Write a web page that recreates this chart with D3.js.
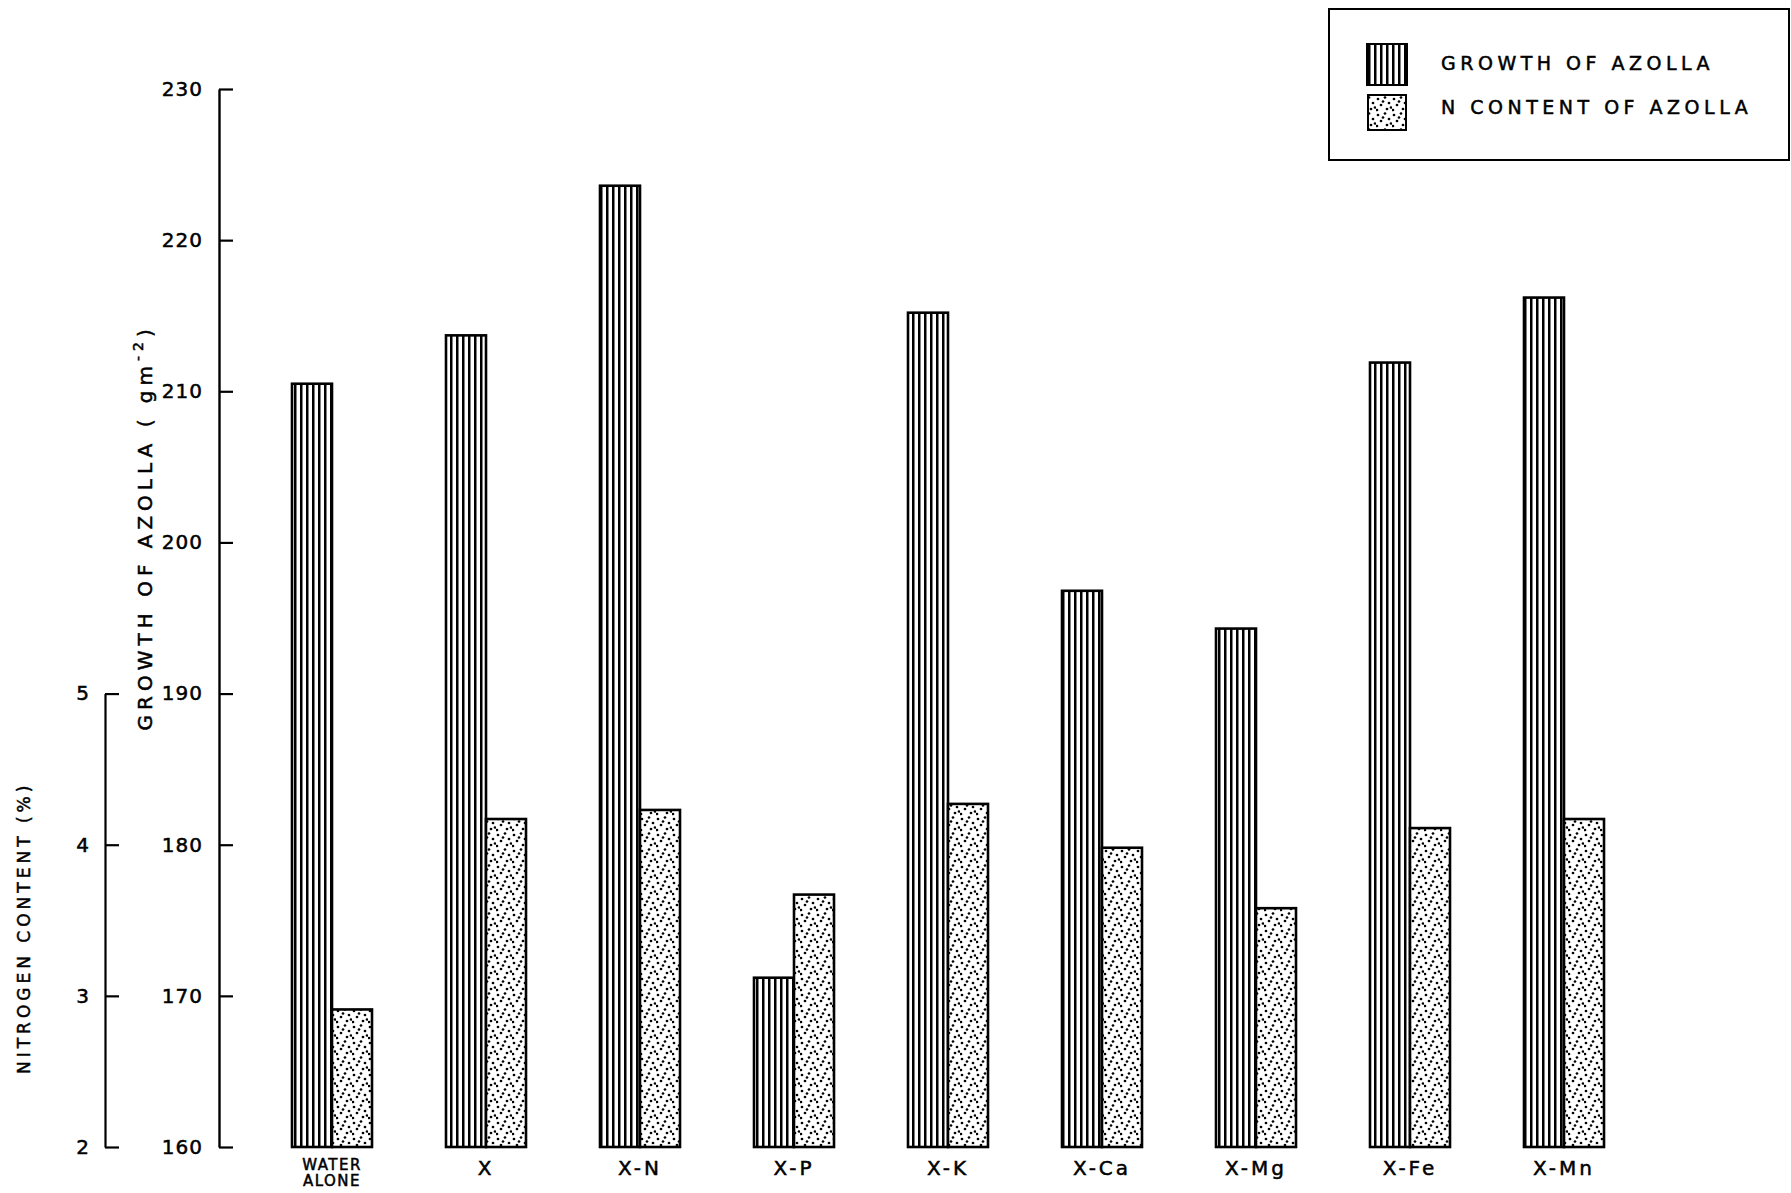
<!DOCTYPE html>
<html lang="en">
<head>
<meta charset="utf-8">
<title>Azolla growth and N content</title>
<script src="https://d3js.org/d3.v7.min.js"></script>
<style>
  body { margin: 0; background: #fff; }
  svg text { font-family: "DejaVu Sans", sans-serif; fill: #000; stroke: #000; stroke-width: 0.5; }
</style>
</head>
<body>
<svg id="chart" width="1791" height="1193"></svg>
<script>
// data
var treatments = ["WATER ALONE", "X", "X-N", "X-P", "X-K", "X-Ca", "X-Mg", "X-Fe", "X-Mn"];
var growth = [210.5, 213.7, 223.6, 171.2, 215.2, 196.8, 194.3, 211.9, 216.2];
var nContent = [2.91, 4.17, 4.23, 3.67, 4.27, 3.98, 3.58, 4.11, 4.17];
var growthTicks = [160, 170, 180, 190, 200, 210, 220, 230];
var nTicks = [2, 3, 4, 5];

var svg = d3.select("#chart");
var baseY = 1147;
var barW = 40;

// scales
var x = d3.scalePoint().domain(treatments).range([332, 1564]);
var yG = d3.scaleLinear().domain([160, 230]).range([baseY, 89]);
var yN = d3.scaleLinear().domain([2, 5]).range([baseY, yG(190)]);

// fill patterns
var defs = svg.append("defs");
var stripe = defs.append("pattern").attr("id", "stripes")
  .attr("patternUnits", "userSpaceOnUse").attr("width", 6).attr("height", 10);
stripe.append("rect").attr("width", 6).attr("height", 10).attr("fill", "#fff");
stripe.append("rect").attr("x", 0).attr("width", 2.5).attr("height", 10).attr("fill", "#000");

var dots = defs.append("pattern").attr("id", "dots")
  .attr("patternUnits", "userSpaceOnUse").attr("width", 16).attr("height", 16);
dots.append("rect").attr("width", 16).attr("height", 16).attr("fill", "#fff");
[[2, 3], [9, 1.5], [13, 7], [5, 9], [11, 13], [1, 14], [7, 5.5], [15, 11.5]].forEach(function(p) {
  dots.append("circle").attr("cx", p[0]).attr("cy", p[1]).attr("r", 1.35).attr("fill", "#000");
});

// growth axis
var gAxis = svg.append("g").attr("transform", "translate(219,0)")
  .call(d3.axisLeft(yG).tickValues(growthTicks).tickSize(-14).tickSizeOuter(0).tickPadding(16).tickFormat(d3.format("d")));
gAxis.select(".domain").attr("stroke-width", 2.4);
gAxis.selectAll(".tick line").attr("stroke-width", 2.2);
gAxis.selectAll(".tick text").attr("font-size", 20).attr("letter-spacing", 1).style("font-family", "DejaVu Sans, sans-serif");

// nitrogen axis
var nAxis = svg.append("g").attr("transform", "translate(105,0)")
  .call(d3.axisLeft(yN).tickValues(nTicks).tickSize(-14).tickSizeOuter(0).tickPadding(16).tickFormat(d3.format("d")));
nAxis.select(".domain").attr("stroke-width", 2.2);
nAxis.selectAll(".tick line").attr("stroke-width", 2.2);
nAxis.selectAll(".tick text").attr("font-size", 20).style("font-family", "DejaVu Sans, sans-serif");

// axis titles
var tG = svg.append("text")
  .attr("transform", "translate(152," + yG(201) + ") rotate(-90)")
  .attr("text-anchor", "middle").attr("font-size", 20).attr("letter-spacing", 5);
tG.append("tspan").text("GROWTH OF AZOLLA ( gm");
tG.append("tspan").attr("dy", -9).attr("font-size", 14).text("-2");
tG.append("tspan").attr("dy", 9).text(")");

svg.append("text")
  .attr("transform", "translate(30," + yN(3.45) + ") rotate(-90)")
  .attr("text-anchor", "middle").attr("font-size", 17).attr("letter-spacing", 4)
  .text("NITROGEN CONTENT (%)");

// bars
var groups = svg.append("g").selectAll("g").data(treatments).join("g");

groups.append("rect")
  .attr("x", function(d) { return x(d) - barW; })
  .attr("y", function(d, i) { return yG(growth[i]); })
  .attr("width", barW)
  .attr("height", function(d, i) { return baseY - yG(growth[i]); })
  .attr("fill", "url(#stripes)").attr("stroke", "#000").attr("stroke-width", 2.6);

groups.append("rect")
  .attr("x", function(d) { return x(d); })
  .attr("y", function(d, i) { return yN(nContent[i]); })
  .attr("width", barW)
  .attr("height", function(d, i) { return baseY - yN(nContent[i]); })
  .attr("fill", "url(#dots)").attr("stroke", "#000").attr("stroke-width", 2.6);

// category labels
groups.append("text")
  .attr("x", function(d) { return x(d); })
  .attr("y", 1175)
  .attr("text-anchor", "middle").attr("font-size", 20).attr("letter-spacing", 3)
  .each(function(d) {
    var parts = d.split(" ");
    var t = d3.select(this);
    if (parts.length > 1) t.attr("y", 1170).attr("font-size", 15).attr("letter-spacing", 1.5);
    parts.forEach(function(p, k) {
      t.append("tspan").attr("x", x(d)).attr("dy", k === 0 ? 0 : 16).text(p);
    });
  });

// legend
var leg = svg.append("g");
leg.append("rect").attr("x", 1329).attr("y", 9).attr("width", 460).attr("height", 151)
  .attr("fill", "#fff").attr("stroke", "#000").attr("stroke-width", 2);
leg.append("rect").attr("x", 1367).attr("y", 44).attr("width", 40).attr("height", 41)
  .attr("fill", "url(#stripes)").attr("stroke", "#000").attr("stroke-width", 2);
leg.append("rect").attr("x", 1368).attr("y", 95).attr("width", 38).attr("height", 35)
  .attr("fill", "url(#dots)").attr("stroke", "#000").attr("stroke-width", 2);
leg.append("text").attr("x", 1441).attr("y", 70).attr("font-size", 19).attr("letter-spacing", 4.5)
  .text("GROWTH OF AZOLLA");
leg.append("text").attr("x", 1441).attr("y", 114).attr("font-size", 19).attr("letter-spacing", 4.5)
  .text("N CONTENT OF AZOLLA");
</script>
</body>
</html>
